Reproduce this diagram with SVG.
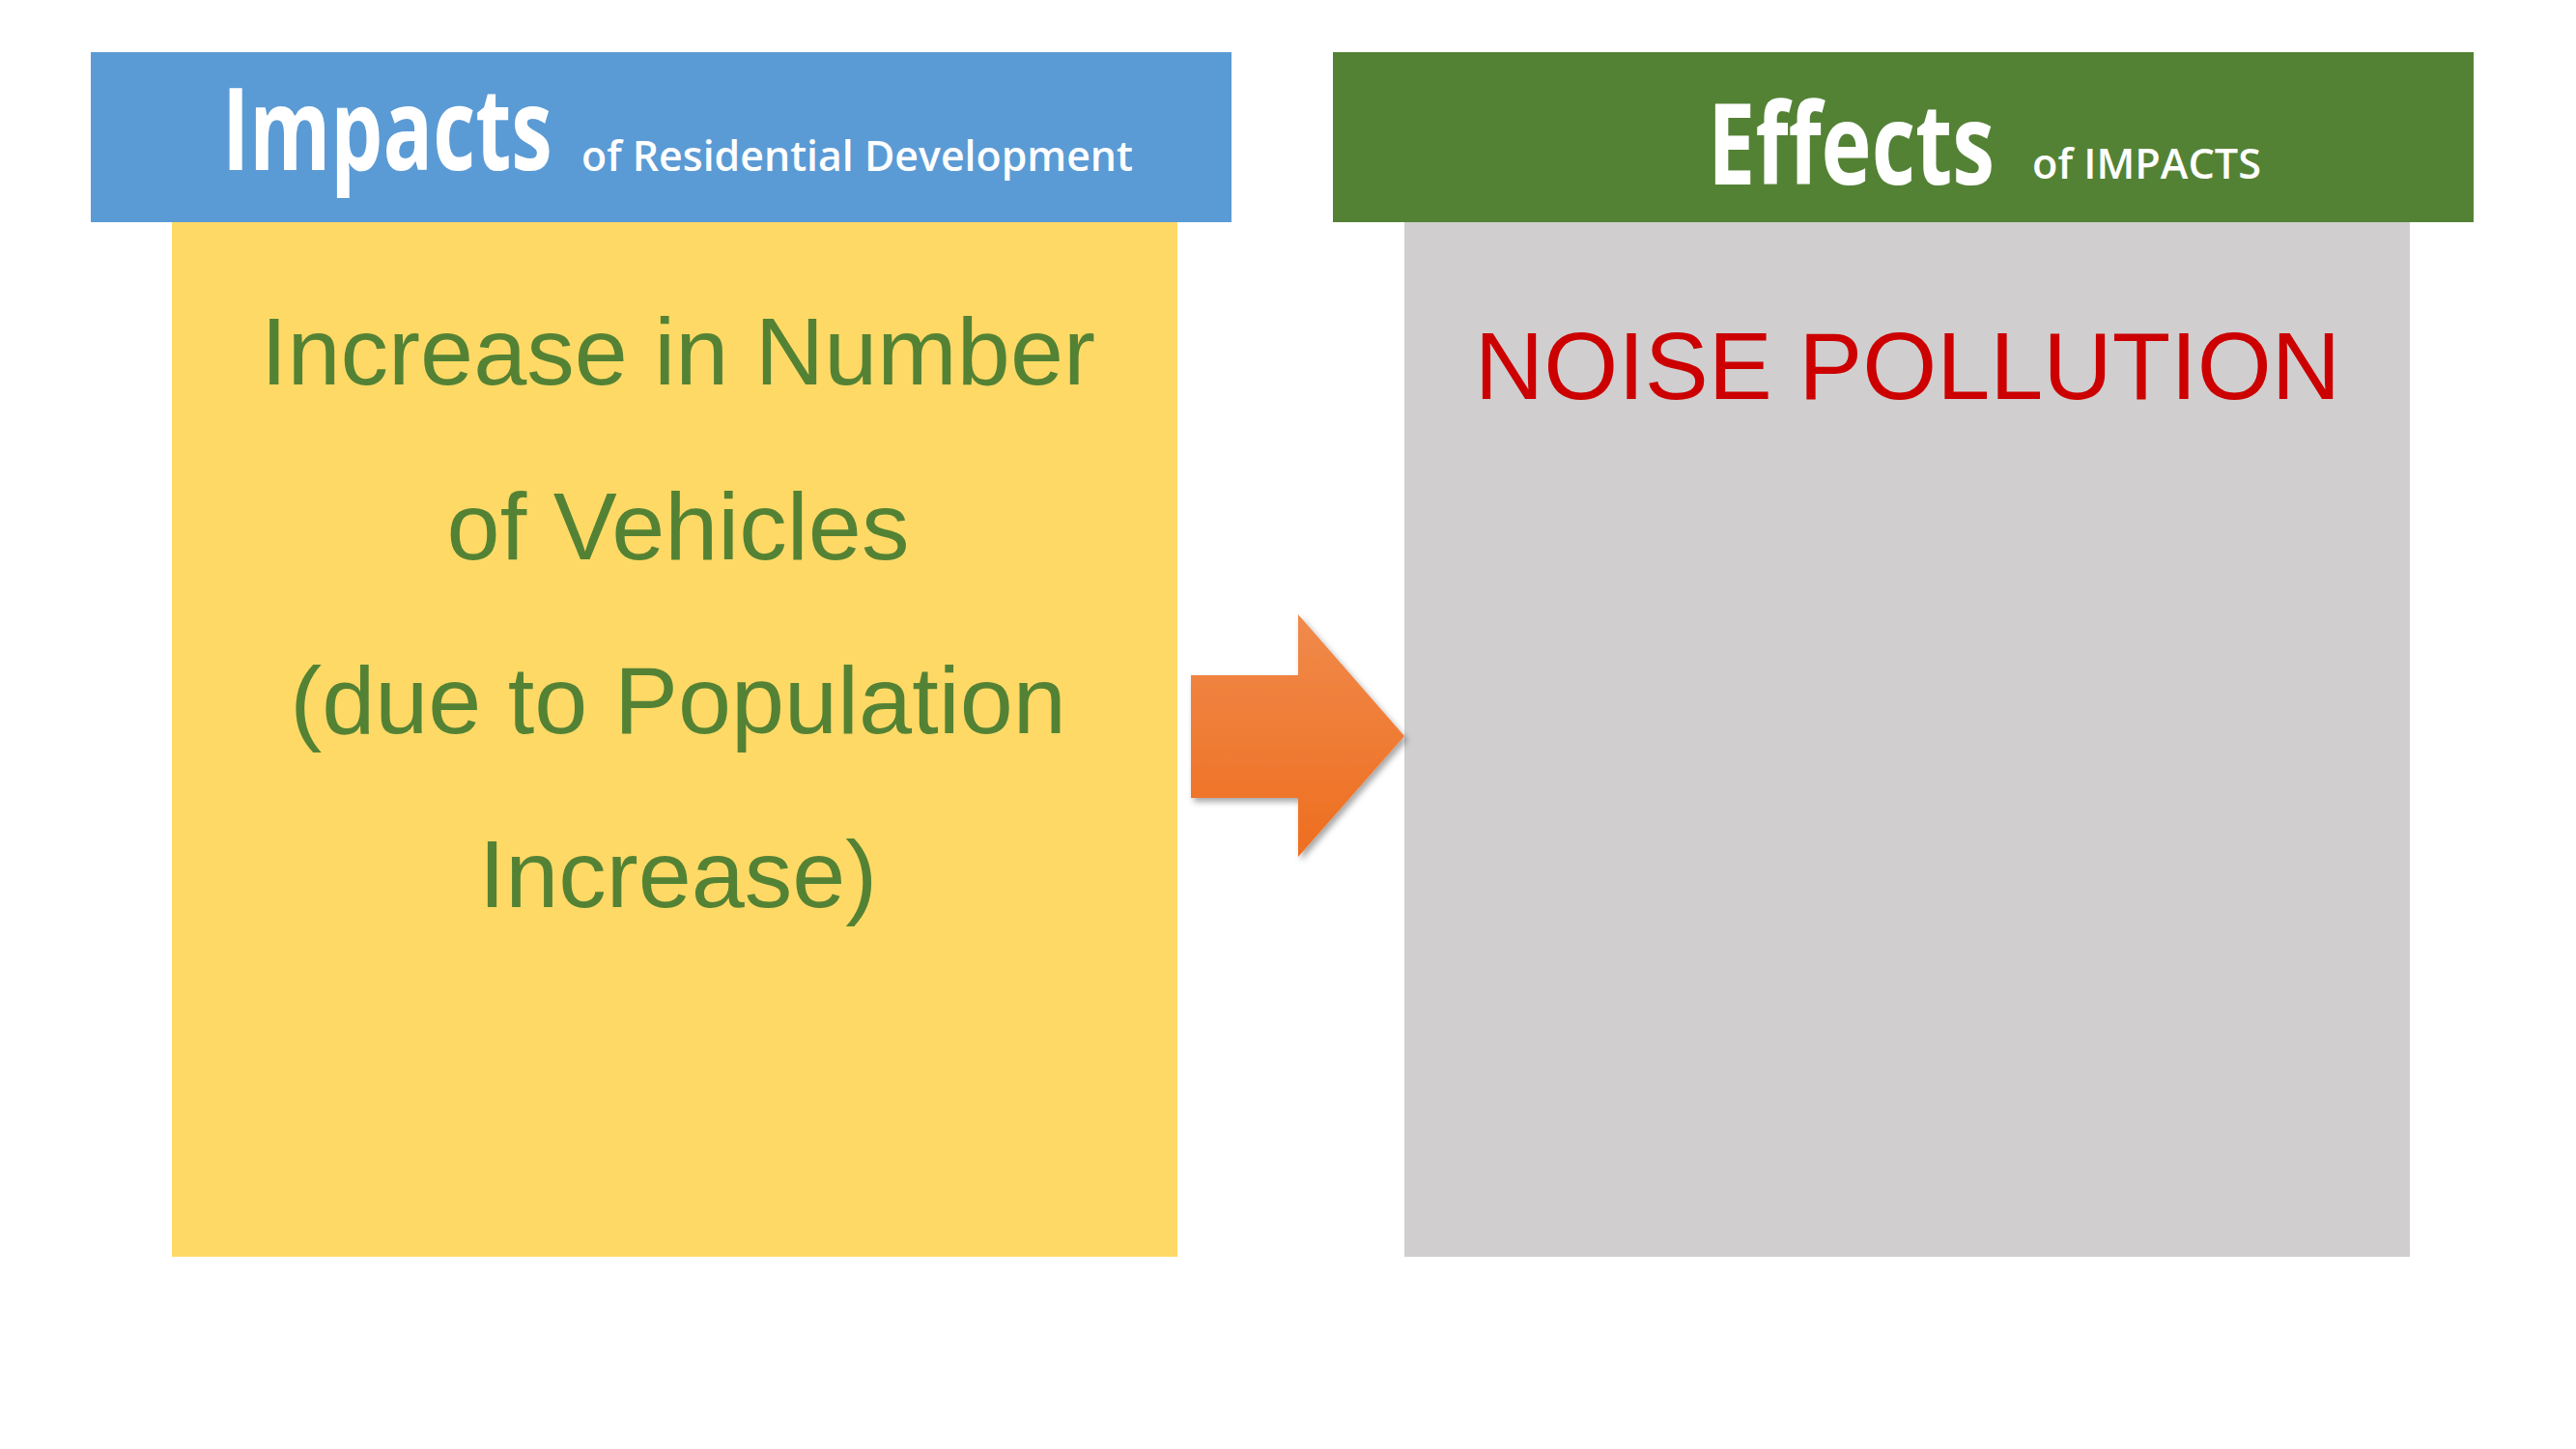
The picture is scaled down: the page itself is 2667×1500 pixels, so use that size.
<svg xmlns="http://www.w3.org/2000/svg" width="2667" height="1500" viewBox="0 0 2667 1500">
  <style>
    .hdr { font-family: "Open Sans", "Liberation Sans", sans-serif; font-weight: 700; fill: #FFFFFF; }
    .sub { font-family: "Open Sans", "Liberation Sans", sans-serif; font-weight: 600; fill: #FFFFFF; }
    .body { font-family: "Liberation Sans", Arial, sans-serif; font-size: 99px; text-anchor: middle; }
    .green { fill: #548235; }
    .red { fill: #CC0000; }
  </style>
  <defs>
    <linearGradient id="arrowGrad" x1="0" y1="0" x2="0" y2="1">
      <stop offset="0" stop-color="#F08A4B"/>
      <stop offset="1" stop-color="#EE6E1F"/>
    </linearGradient>
    <filter id="shadow" x="-20%" y="-20%" width="140%" height="140%">
      <feDropShadow dx="3" dy="4" stdDeviation="3" flood-color="#000000" flood-opacity="0.35"/>
    </filter>
  </defs>
  <rect width="2667" height="1500" fill="#FFFFFF"/>

  <g id="impacts">
    <rect x="178" y="230" width="1041" height="1071" fill="#FFD966"/>
    <rect x="94" y="54" width="1181" height="176" fill="#5B9BD5"/>
    <text class="hdr" transform="translate(230,176) scale(0.74,1)" x="0" y="0" font-size="118" textLength="462" lengthAdjust="spacingAndGlyphs">Impacts</text>
    <text class="sub" x="602" y="177" font-size="43" textLength="571" lengthAdjust="spacingAndGlyphs">of Residential Development</text>
    <text class="body green" x="702" y="398">Increase in Number</text>
    <text class="body green" x="702" y="579">of Vehicles</text>
    <text class="body green" x="702" y="759">(due to Population</text>
    <text class="body green" x="702" y="939">Increase)</text>
  </g>

  <g id="effects">
    <rect x="1454" y="230" width="1041" height="1071" fill="#D0CECE"/>
    <rect x="1380" y="54" width="1181" height="176" fill="#548235"/>
    <text class="hdr" transform="translate(1768,191) scale(0.76,1)" x="0" y="0" font-size="116" textLength="391" lengthAdjust="spacingAndGlyphs">Effects</text>
    <text class="sub" x="2104" y="185" font-size="44" textLength="237" lengthAdjust="spacingAndGlyphs">of IMPACTS</text>
    <text class="body red" x="1975" y="413">NOISE POLLUTION</text>
  </g>

  <g id="connectors">
    <path d="M1233,699 L1344,699 L1344,636 L1454,762 L1344,887 L1344,826 L1233,826 Z" fill="url(#arrowGrad)" filter="url(#shadow)"/>
  </g>
</svg>
